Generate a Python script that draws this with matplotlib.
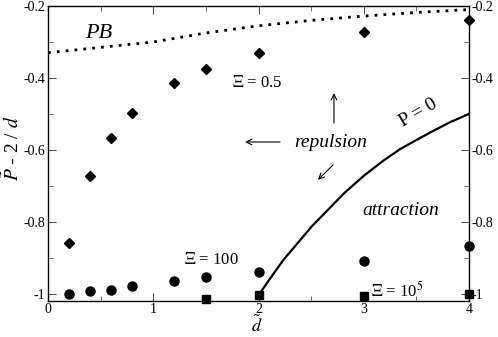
import matplotlib
matplotlib.use("Agg")
import matplotlib.pyplot as plt
from matplotlib.ticker import MultipleLocator, FixedFormatter, FixedLocator

plt.rcParams['font.family'] = ['Liberation Serif', 'DejaVu Serif']
plt.rcParams['mathtext.fontset'] = 'stix'

# Xi = 0.5 (diamonds)
d_half = [0.2, 0.4, 0.6, 0.8, 1.2, 1.5, 2.0, 3.0, 4.0]
p_half = [-0.86, -0.672, -0.567, -0.497, -0.414, -0.375, -0.33, -0.272, -0.239]

# Xi = 100 (circles)
d_100 = [0.2, 0.4, 0.6, 0.8, 1.2, 1.5, 2.0, 3.0, 4.0]
p_100 = [-1.0, -0.992, -0.989, -0.978, -0.964, -0.953, -0.94, -0.91, -0.868]

# Xi = 1e5 (squares)
d_big = [1.5, 2.0, 3.0, 4.0]
p_big = [-1.014, -1.003, -1.005, -1.0]

# Poisson-Boltzmann (dotted)
d_pb = [0.0, 0.5, 1.0, 1.5, 2.0, 2.5, 3.0, 3.5, 4.0]
p_pb = [-0.33, -0.315, -0.30, -0.275, -0.255, -0.24, -0.228, -0.218, -0.21]

# P = 0 line
d_p0 = [2.014, 2.109, 2.236, 2.505, 2.815, 3.0, 3.186, 3.344, 3.503, 3.661, 3.82, 4.0]
p_p0 = [-0.998, -0.958, -0.906, -0.813, -0.720, -0.672, -0.630, -0.598, -0.572,
        -0.547, -0.523, -0.5]

fig = plt.figure(figsize=(4.98, 3.37), dpi=100)
ax = fig.add_axes([48/498, 1-301/337, 421/498, 295/337])

ax.plot(d_pb, p_pb, color='black', lw=2.0, linestyle=(0, (1, 2.2)),
        dash_capstyle='butt')
ax.plot(d_p0, p_p0, color='black', lw=1.6)
ax.plot(d_half, p_half, 'D', color='black', ms=5.2, clip_on=False)
ax.plot(d_100, p_100, 'o', color='black', ms=6.5, clip_on=False)
ax.plot(d_big, p_big, 's', color='black', ms=5.5, clip_on=False)

ax.set_xlim(0, 4)
ax.set_ylim(-1.02, -0.2)

ax.xaxis.set_major_locator(MultipleLocator(1))
ax.xaxis.set_minor_locator(MultipleLocator(0.5))
yt = [-1.0, -0.8, -0.6, -0.4, -0.2]
ax.yaxis.set_major_locator(FixedLocator(yt))
ax.yaxis.set_major_formatter(FixedFormatter(['-1', '-0.8', '-0.6', '-0.4', '-0.2']))
ax.yaxis.set_minor_locator(FixedLocator([-0.9, -0.7, -0.5, -0.3]))
ax.tick_params(which='both', direction='in', top=True, right=True,
               labelright=True, color='#555555', labelsize=10, pad=2)
ax.tick_params(axis='x', pad=1.5)
ax.tick_params(which='major', length=6)
ax.tick_params(which='minor', length=3.5)
for s in ax.spines.values():
    s.set_linewidth(1.0)

ax.text(0.353, -0.289, 'PB', fontsize=16, style='italic', ha='left', va='baseline')
ax.text(1.748, -0.425, r'$\Xi$ = 0.5', fontsize=12, ha='left', va='baseline')
ax.text(1.292, -0.917, r'$\Xi$ = 100', fontsize=12, ha='left', va='baseline')
ax.text(3.07, -1.008, r'$\Xi$ = 10$^5$', fontsize=12, ha='left', va='baseline')
ax.text(2.69, -0.592, 'repulsion', fontsize=14, style='italic', ha='center', va='baseline')
ax.text(2.99, -0.78, 'attraction', fontsize=14, style='italic', ha='left', va='baseline')
ax.text(3.373, -0.536, 'P = 0', fontsize=14, rotation=30, rotation_mode='anchor',
        ha='left', va='baseline')

arr = dict(arrowstyle='->', lw=0.8, color='black', shrinkA=0, shrinkB=0)
ax.annotate('', xy=(2.717, -0.442), xytext=(2.717, -0.525), arrowprops=arr)
ax.annotate('', xy=(1.872, -0.578), xytext=(2.204, -0.578), arrowprops=arr)
ax.annotate('', xy=(2.565, -0.683), xytext=(2.708, -0.642), arrowprops=arr)

fig.text(257/498, 1/337, r'$\tilde{d}$', fontsize=13, ha='center', va='bottom')
fig.text(11/498, 1-148/337, r'$\tilde{P}$ - 2 / $\tilde{d}$', fontsize=14,
         rotation=90, ha='center', va='center')

fig.savefig('out.png', dpi=100)
